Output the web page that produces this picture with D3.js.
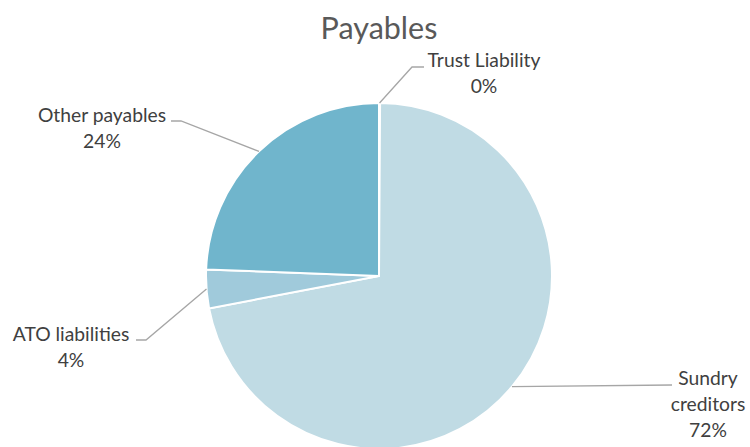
<!DOCTYPE html>
<html>
<head>
<meta charset="utf-8">
<script src="https://cdn.jsdelivr.net/npm/d3@7"></script>
<style>
  body { margin: 0; background: #fff; }
  text { font-family: Lato, "Open Sans", sans-serif; fill: #404040; }
</style>
</head>
<body>
<div id="chart"></div>
<script>
// data
var categories = ["Trust Liability", "Sundry creditors", "ATO liabilities", "Other payables"];
var values = [0.1, 71.9, 3.6, 24.4];
var pctLabels = ["0%", "72%", "4%", "24%"];
var colors = ["#3f8fae", "#c0dbe4", "#a0cadb", "#70b5cc"];

// layout
var width = 750, height = 447;
var cx = 379, cy = 276, radius = 173;
// label text blocks: center x, first line y, elbow point, line end x
var labelPos = [
  {x: 484, y: 67, lines: ["Trust Liability"], ex: 412, ey: 67, lx: 424},
  {x: 708, y: 385, lines: ["Sundry", "creditors"], ex: 672, ey: 385, lx: 672},
  {x: 71, y: 341, lines: ["ATO liabilities"], ex: 146, ey: 340, lx: 136},
  {x: 102, y: 122, lines: ["Other payables"], ex: 181, ey: 121, lx: 171}
];

var svg = d3.select("#chart").append("svg")
  .attr("width", width)
  .attr("height", height);

svg.append("text")
  .attr("x", cx)
  .attr("y", 39)
  .attr("text-anchor", "middle")
  .attr("font-size", "30.5px")
  .style("fill", "#595959")
  .text("Payables");

var pie = d3.pie().sort(null).value(d => d);
var arcs = pie(values);
var arc = d3.arc().innerRadius(0).outerRadius(radius);

var g = svg.append("g")
  .attr("transform", "translate(" + cx + "," + cy + ")");

g.selectAll("path")
  .data(arcs)
  .enter().append("path")
  .attr("d", arc)
  .attr("fill", (d, i) => colors[i])
  .attr("stroke", "#fff")
  .attr("stroke-width", 2);

// leader lines from arc edge at mid angle
arcs.forEach(function(d, i) {
  var a = (d.startAngle + d.endAngle) / 2;
  var sx = cx + radius * Math.sin(a);
  var sy = cy - radius * Math.cos(a);
  var p = labelPos[i];
  svg.append("polyline")
    .attr("points", [[sx, sy], [p.ex, p.ey], [p.lx, p.ey]].map(q => q.join(",")).join(" "))
    .attr("fill", "none")
    .attr("stroke", "#a6a6a6")
    .attr("stroke-width", 1.3);

  var t = svg.append("text")
    .attr("text-anchor", "middle")
    .attr("font-size", "19.3px");
  var lines = p.lines.concat([pctLabels[i]]);
  lines.forEach(function(s, j) {
    t.append("tspan")
      .attr("x", p.x)
      .attr("y", p.y + j * 26)
      .text(s);
  });
});
</script>
</body>
</html>
